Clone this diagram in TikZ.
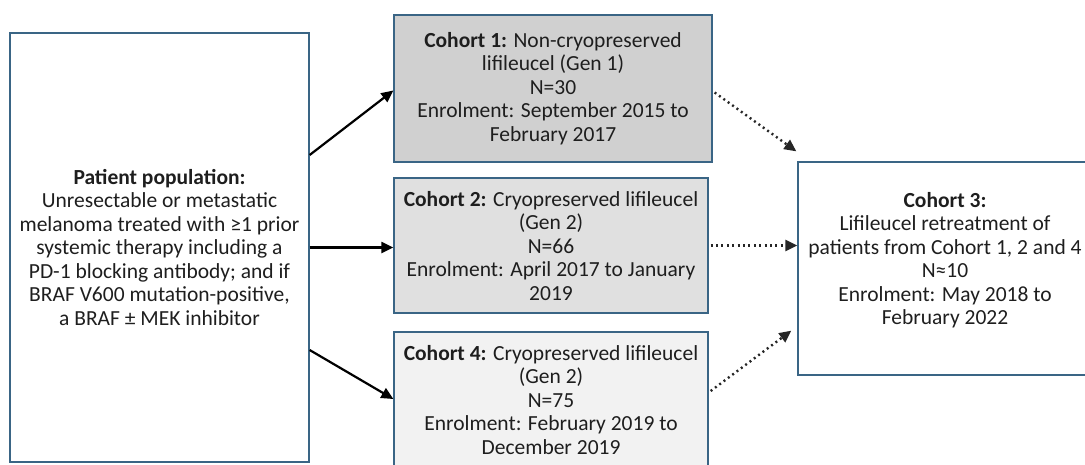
\documentclass[tikz,border=0pt]{standalone}
\usepackage{fontspec}
\setmainfont{Carlito}
\usetikzlibrary{arrows.meta}
\definecolor{boxedge}{HTML}{3A6585}
\definecolor{txt}{HTML}{1E1E1E}
\definecolor{fillone}{HTML}{D0D0D0}
\definecolor{filltwo}{HTML}{E0E0E0}
\definecolor{fillfour}{HTML}{F2F2F2}
\begin{document}
\begin{tikzpicture}[x=1pt,y=-1pt,
  font=\fontsize{21.5}{23.5}\selectfont,
  box/.style={draw=boxedge, line width=1.3pt, align=center, inner sep=0pt, text=txt},
  solidarrow/.style={line width=2.2pt, draw=black, -{Triangle[length=12pt,width=11pt]}},
  dotarrow/.style={line width=2.4pt, draw=black!85, dash pattern=on 2pt off 3.4pt,
    -{Triangle[length=12pt,width=11pt,sep=0pt]}}]
\useasboundingbox (0,0) rectangle (1085,464);
\clip (0,0) rectangle (1085,464);

% patient population
\node[box, minimum width=299pt, minimum height=429pt] (pop) at (159.5,247.5)
  {\textbf{Patient population:}\\Unresectable or metastatic\\melanoma treated with ≥1 prior\\systemic therapy including a\\PD-1 blocking antibody; and if\\BRAF V600 mutation-positive,\\a BRAF ± MEK inhibitor};

% cohorts
\node[box, fill=fillone, minimum width=318pt, minimum height=147pt] (c1) at (553,88.5)
  {\textbf{Cohort 1:} Non-cryopreserved\\lifileucel (Gen 1)\\N=30\\Enrolment: September 2015 to\\February 2017};
\node[box, fill=filltwo, minimum width=314pt, minimum height=135pt, text depth=-4pt] (c2) at (551,245.5)
  {\textbf{Cohort 2:} Cryopreserved lifileucel\\(Gen 2)\\N=66\\Enrolment: April 2017 to January\\2019};
\node[box, fill=fillfour, minimum width=314pt, minimum height=136pt] (c4) at (551,400)
  {\textbf{Cohort 4:} Cryopreserved lifileucel\\(Gen 2)\\N=75\\Enrolment: February 2019 to\\December 2019};
\node[box, minimum width=294pt, minimum height=213pt, text depth=20pt] (c3) at (945,268.5)
  {\textbf{Cohort 3:}\\Lifileucel retreatment of\\patients from Cohort 1, 2 and 4\\N≈10\\Enrolment: May 2018 to\\February 2022};

% enrolment arrows
\draw[solidarrow] ([yshift=92.5pt]pop.east) -- ([yshift=-2pt]c1.west);
\draw[solidarrow] (pop.east) -- (pop.east -| c2.west);
\draw[solidarrow] ([yshift=-102.5pt]pop.east) -- ([yshift=1pt]c4.west);

% retreatment arrows
\coordinate (t1) at ([shift={(-1,-10)}]c3.north west);
\coordinate (t4) at ([shift={(-6,-45)}]c3.south west);
\draw[dotarrow] ([shift={(2,4)}]c1.east) -- (t1);
\draw[dotarrow] ([xshift=2pt]c2.east) -- (c2.east -| c3.west);
\draw[dotarrow] ([shift={(2,-9)}]c4.east) -- (t4);
\end{tikzpicture}
\end{document}
